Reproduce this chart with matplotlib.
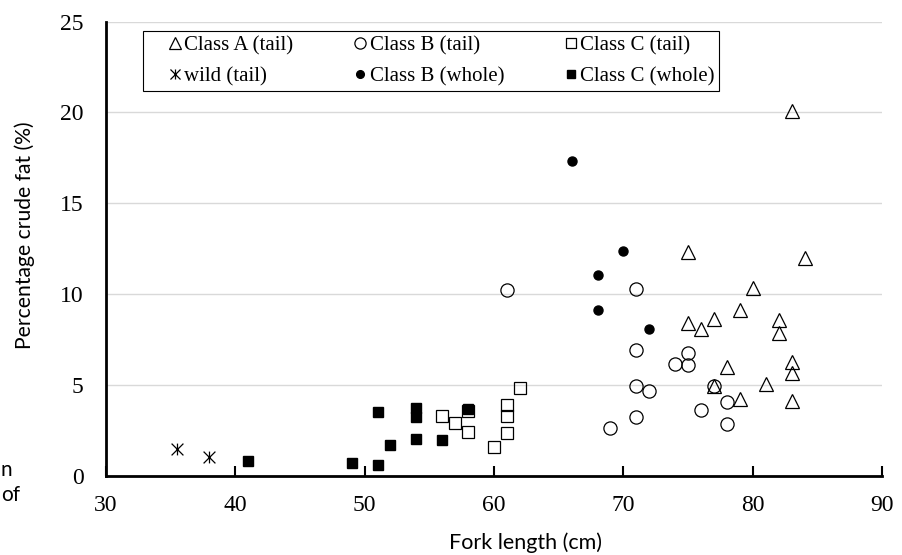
import numpy as np
import matplotlib
matplotlib.use("Agg")
import matplotlib.pyplot as plt
from matplotlib.path import Path

# data (fork length cm, crude fat %)
a_tail_x = [83, 75, 84, 80, 79, 75, 76, 77, 82, 82, 83, 83, 78, 81, 77, 79, 83]
a_tail_y = [20.1, 12.3, 12.0, 10.35, 9.1, 8.4, 8.1, 8.65, 8.6, 7.85, 6.25, 5.65, 6.0, 5.05, 4.95, 4.25, 4.1]

b_tail_x = [61, 71, 71, 71, 72, 71, 69, 74, 75, 75, 77, 76, 78, 78]
b_tail_y = [10.2, 10.3, 6.9, 4.95, 4.65, 3.25, 2.65, 6.15, 6.75, 6.1, 4.95, 3.6, 4.05, 2.85]

c_tail_x = [56, 57, 58, 58, 60, 61, 61, 61, 62]
c_tail_y = [3.3, 2.9, 3.55, 2.4, 1.6, 3.9, 3.3, 2.35, 4.85]

wild_x = [35.5, 38]
wild_y = [1.45, 1.05]

b_whole_x = [66, 70, 68, 68, 72]
b_whole_y = [17.35, 12.35, 11.05, 9.1, 8.1]

c_whole_x = [41, 49, 51, 51, 52, 54, 54, 54, 56, 58]
c_whole_y = [0.8, 0.7, 0.6, 3.5, 1.7, 3.7, 3.25, 2.0, 1.95, 3.65]

xticks = [30, 40, 50, 60, 70, 80, 90]
yticks = [0, 5, 10, 15, 20, 25]

plt.rcParams['font.family'] = ['Liberation Serif', 'DejaVu Serif']

# excel style asterisk: an X with a vertical bar
star = Path([(-1, -1), (1, 1), (-1, 1), (1, -1), (0, -1), (0, 1)],
            [Path.MOVETO, Path.LINETO, Path.MOVETO, Path.LINETO, Path.MOVETO, Path.LINETO])

fig = plt.figure(figsize=(9.02, 5.55), dpi=100)
ax = fig.add_axes([0.1172, 0.1429, 0.8609, 0.818])

h_a, = ax.plot(a_tail_x, a_tail_y, ls='none', marker='^', ms=9.5, mfc='none', mec='black', mew=0.9, label='Class A (tail)')
h_b, = ax.plot(b_tail_x, b_tail_y, ls='none', marker='o', ms=9.5, mfc='none', mec='black', mew=0.9, label='Class B (tail)')
h_c, = ax.plot(c_tail_x, c_tail_y, ls='none', marker='s', ms=8.6, mfc='none', mec='black', mew=0.9, label='Class C (tail)')
h_w, = ax.plot(wild_x, wild_y, ls='none', marker=star, ms=8.5, mec='black', mew=0.9, label='wild (tail)')
h_bw, = ax.plot(b_whole_x, b_whole_y, ls='none', marker='o', ms=6.5, mfc='black', mec='black', label='Class B (whole)')
h_cw, = ax.plot(c_whole_x, c_whole_y, ls='none', marker='s', ms=6.5, mfc='black', mec='black', label='Class C (whole)')

ax.set_xlim(30, 90)
ax.set_ylim(0, 25)
ax.set_xticks(xticks)
ax.set_yticks(yticks)
ax.tick_params(axis='x', direction='in', length=7, width=1.5, pad=14, labelsize=17)
ax.tick_params(axis='y', length=0, pad=16, labelsize=17)

ax.grid(axis='y', color='#d9d9d9', lw=1)
ax.set_axisbelow(True)
for s in ['top', 'right']:
    ax.spines[s].set_visible(False)
ax.spines['left'].set_linewidth(2)
ax.spines['bottom'].set_linewidth(2)

ax.set_xlabel('Fork length (cm)', fontfamily='Lato', fontsize=15.5)
ax.xaxis.set_label_coords(0.541, -0.125)
ax.set_ylabel('Percentage crude fat (%)', fontfamily='Lato', fontsize=15.2)
ax.yaxis.set_label_coords(-0.091, 0.529)

# legend fills column by column, so order handles to give the reference rows
handles = [h_a, h_w, h_b, h_bw, h_c, h_cw]
leg = ax.legend(handles=handles, labels=[h.get_label() for h in handles], ncol=3,
                loc='upper left', bbox_to_anchor=(0.048, 0.9795), borderaxespad=0,
                fancybox=False, frameon=True, edgecolor='black', framealpha=1,
                prop={'family': 'Liberation Serif', 'size': 15},
                handlelength=2.64, handletextpad=-0.88, columnspacing=1.9,
                labelspacing=0.55, borderpad=0.22, markerscale=0.85)
leg.get_frame().set_linewidth(0.8)

# cropped text fragments at the left edge of the picture
fig.text(0.001, 1 - 470 / 555, 'n', fontfamily='Lato', fontsize=15, va='center')
fig.text(0.001, 1 - 495 / 555, 'of', fontfamily='Lato', fontsize=15, va='center')

fig.savefig('out.png', dpi=100)
